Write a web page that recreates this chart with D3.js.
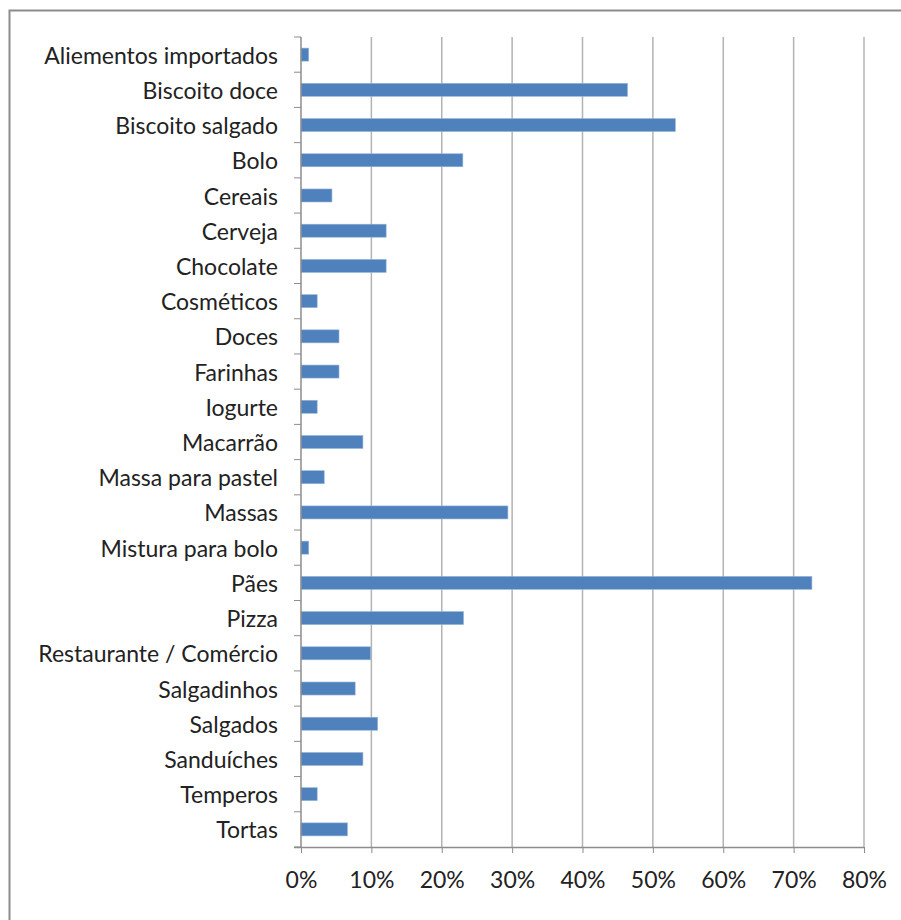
<!DOCTYPE html>
<html>
<head>
<meta charset="utf-8">
<script src="https://cdn.jsdelivr.net/npm/d3@7"></script>
<style>
  body { margin: 0; background: #fff; }
  svg { display: block; }
  .lbl { font-family: Lato, "Open Sans", sans-serif; fill: #222; }
</style>
</head>
<body>
<svg id="chart" width="901" height="920"></svg>
<script>
// categories top to bottom
const categories = [
  'Aliementos importados', 'Biscoito doce', 'Biscoito salgado', 'Bolo', 'Cereais',
  'Cerveja', 'Chocolate', 'Cosméticos', 'Doces', 'Farinhas', 'Iogurte', 'Macarrão',
  'Massa para pastel', 'Massas', 'Mistura para bolo', 'Pães', 'Pizza',
  'Restaurante / Comércio', 'Salgadinhos', 'Salgados', 'Sanduíches', 'Temperos', 'Tortas'
];
const values = [
  1.1, 46.4, 53.2, 23.0, 4.4,
  12.1, 12.1, 2.3, 5.4, 5.4, 2.3, 8.8,
  3.3, 29.4, 1.1, 72.6, 23.1,
  9.9, 7.7, 10.9, 8.8, 2.3, 6.6
];
const xTicks = [0, 10, 20, 30, 40, 50, 60, 70, 80];

const svg = d3.select('#chart');
const margin = { top: 37, right: 37, bottom: 73, left: 301 };
const width = 901 - margin.left - margin.right;
const height = 920 - margin.top - margin.bottom;

// outer chart border
svg.append('rect')
    .attr('x', 9.5).attr('y', 10.5)
    .attr('width', 905).attr('height', 920)
    .attr('fill', 'none')
    .attr('stroke', '#8c8c8c')
    .attr('stroke-width', 2);

const g = svg.append('g').attr('transform', `translate(${margin.left}, ${margin.top})`);

const x = d3.scaleLinear().domain([0, 80]).range([0, width]);
const y = d3.scaleBand().domain(categories).range([0, height]).paddingInner(0.63).paddingOuter(0.315);
const yb = d3.scaleBand().domain(categories).range([0, height]);

// vertical gridlines
g.append('g')
  .selectAll('line')
  .data(xTicks.slice(1))
  .join('line')
    .attr('x1', (d) => x(d)).attr('x2', (d) => x(d))
    .attr('y1', 0).attr('y2', height)
    .attr('stroke', '#b3b3b3')
    .attr('stroke-width', 1.5);

// bars
g.append('g')
  .selectAll('rect')
  .data(categories)
  .join('rect')
    .attr('x', 0)
    .attr('y', (d) => y(d))
    .attr('width', (d, i) => x(values[i]))
    .attr('height', y.bandwidth())
    .attr('fill', '#4f81bd')
    .attr('stroke', '#9ab6da')
    .attr('stroke-width', 0.6);

// category ticks on the left axis
g.append('g')
  .selectAll('line')
  .data(categories.map((c) => yb(c)).concat([height]))
  .join('line')
    .attr('x1', -7).attr('x2', 0)
    .attr('y1', (d) => d).attr('y2', (d) => d)
    .attr('stroke', '#8c8c8c');

// y axis line
g.append('line')
    .attr('x1', 0).attr('x2', 0).attr('y1', 0).attr('y2', height)
    .attr('stroke', '#8c8c8c').attr('stroke-width', 1.5);

// category labels
g.append('g')
  .selectAll('text')
  .data(categories)
  .join('text')
    .attr('class', 'lbl')
    .attr('x', -23)
    .attr('y', (d) => yb(d) + yb.bandwidth() / 2 + 1)
    .attr('dy', '0.35em')
    .attr('text-anchor', 'end')
    .style('font-size', '23px')
    .text((d) => d);

// x axis
const xAxis = g.append('g')
    .attr('transform', `translate(0, ${height})`)
    .call(d3.axisBottom(x).tickValues(xTicks).tickSize(6).tickPadding(26).tickFormat((d) => `${d}%`));
xAxis.select('.domain').attr('stroke', '#8c8c8c').attr('stroke-width', 1.5)
    .attr('d', `M-7,0.5H${width}`);
xAxis.selectAll('.tick line').attr('stroke', '#8c8c8c');
xAxis.selectAll('.tick text')
    .attr('class', 'lbl')
    .attr('dy', '0')
    .style('dominant-baseline', 'central')
    .style('font-size', '23px');
</script>
</body>
</html>
